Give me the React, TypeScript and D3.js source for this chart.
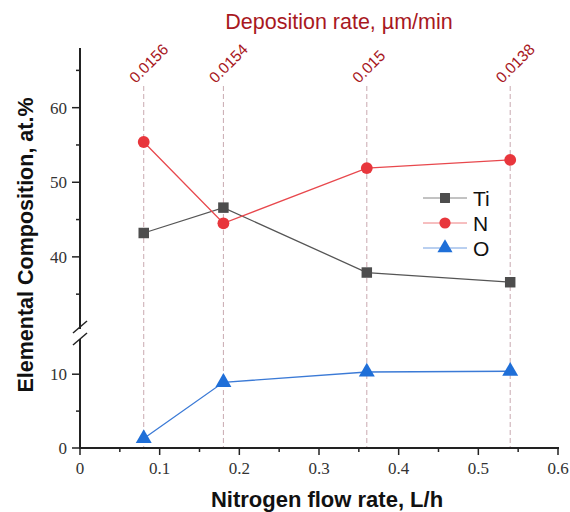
import React, { useEffect, useRef } from "react";
import * as d3 from "d3";

const flowRates = [0.08, 0.18, 0.36, 0.54];
const depositionRates = ["0.0156", "0.0154", "0.015", "0.0138"];
const tiValues = [43.2, 46.6, 37.9, 36.6];
const nValues = [55.4, 44.5, 51.9, 53.0];
const oValues = [1.3, 8.9, 10.3, 10.4];
const xTicks = [0, 0.1, 0.2, 0.3, 0.4, 0.5, 0.6];
const upperTicks = [40, 50, 60];
const upperMinor = [35, 45, 55, 65];
const lowerTicks = [0, 10];
const lowerMinor = [5];

const SANS = "'Liberation Sans', Arial, sans-serif";
const SERIF = "'Liberation Serif', 'Times New Roman', serif";

export default function App() {
  const svgRef = useRef<SVGSVGElement>(null);

  useEffect(() => {
    const svg = d3.select(svgRef.current);
    svg.selectAll("*").remove();

    const x = d3.scaleLinear().domain([0, 0.6]).range([80, 558]);
    const yLow = d3.scaleLinear().domain([0, 14.5]).range([448, 341]);
    const yHigh = d3.scaleLinear().domain([31, 68]).range([324, 48]);
    const y = (v: number) => (v > 20 ? yHigh(v) : yLow(v));

    svg.append("rect").attr("width", 570).attr("height", 512).attr("fill", "#fff");

    // vertical dashed guides
    svg.selectAll(".guide")
      .data(flowRates)
      .join("line")
      .attr("x1", (d) => x(d))
      .attr("x2", (d) => x(d))
      .attr("y1", 86)
      .attr("y2", 448)
      .attr("stroke", "#c9a9b0")
      .attr("stroke-width", 1)
      .attr("stroke-dasharray", "5,3");

    // deposition rate labels
    svg.selectAll(".dep")
      .data(flowRates)
      .join("text")
      .attr("transform", (d) => `translate(${x(d) - 8},84) rotate(-45)`)
      .attr("font-family", SANS)
      .attr("font-size", 15.5)
      .attr("fill", "#a8181e")
      .text((d, i) => depositionRates[i]);

    svg.append("text")
      .attr("x", 339)
      .attr("y", 29)
      .attr("text-anchor", "middle")
      .attr("font-family", SANS)
      .attr("font-size", 21.5)
      .attr("fill", "#a8181e")
      .text("Deposition rate, µm/min");

    // y axis spine (broken)
    const ax = svg.append("g").attr("stroke", "#222").attr("stroke-width", 2);
    ax.append("line").attr("x1", 80).attr("x2", 80).attr("y1", 48).attr("y2", 329);
    ax.append("line").attr("x1", 80).attr("x2", 80).attr("y1", 339).attr("y2", 449);
    ax.append("line").attr("x1", 73).attr("x2", 87).attr("y1", 333).attr("y2", 321).attr("stroke-width", 1.5);
    ax.append("line").attr("x1", 73).attr("x2", 87).attr("y1", 345).attr("y2", 333).attr("stroke-width", 1.5);

    const yTicksMajor = [...upperTicks, ...lowerTicks];
    const yTicksMinor = [...upperMinor, ...lowerMinor];
    svg.selectAll(".ytick")
      .data(yTicksMajor)
      .join("line")
      .attr("x1", 72).attr("x2", 80)
      .attr("y1", (d) => y(d)).attr("y2", (d) => y(d))
      .attr("stroke", "#222").attr("stroke-width", 1.5);
    svg.selectAll(".ytickm")
      .data(yTicksMinor)
      .join("line")
      .attr("x1", 76).attr("x2", 80)
      .attr("y1", (d) => y(d)).attr("y2", (d) => y(d))
      .attr("stroke", "#222").attr("stroke-width", 1.5);
    svg.selectAll(".ylab")
      .data(yTicksMajor)
      .join("text")
      .attr("x", 67)
      .attr("y", (d) => y(d))
      .attr("dy", "0.35em")
      .attr("text-anchor", "end")
      .attr("font-family", SERIF)
      .attr("font-size", 17)
      .attr("fill", "#333")
      .text((d) => d);

    // x axis
    svg.append("line").attr("x1", 79).attr("x2", 559).attr("y1", 448).attr("y2", 448)
      .attr("stroke", "#222").attr("stroke-width", 2);
    svg.selectAll(".xtick")
      .data(xTicks)
      .join("line")
      .attr("x1", (d) => x(d)).attr("x2", (d) => x(d))
      .attr("y1", 448).attr("y2", 455)
      .attr("stroke", "#222").attr("stroke-width", 1.5);
    svg.selectAll(".xtickm")
      .data(xTicks.slice(0, -1).map((d) => d + 0.05))
      .join("line")
      .attr("x1", (d) => x(d)).attr("x2", (d) => x(d))
      .attr("y1", 448).attr("y2", 452)
      .attr("stroke", "#222").attr("stroke-width", 1.5);
    svg.selectAll(".xlab")
      .data(xTicks)
      .join("text")
      .attr("x", (d) => x(d))
      .attr("y", 474)
      .attr("text-anchor", "middle")
      .attr("font-family", SERIF)
      .attr("font-size", 17)
      .attr("fill", "#333")
      .text((d) => (d === 0 ? "0" : d3.format(".1f")(d)));

    svg.append("text")
      .attr("x", 327)
      .attr("y", 507)
      .attr("text-anchor", "middle")
      .attr("font-family", SANS)
      .attr("font-size", 22)
      .attr("font-weight", "bold")
      .attr("fill", "#111")
      .text("Nitrogen flow rate, L/h");

    svg.append("text")
      .attr("transform", "translate(33,245) rotate(-90)")
      .attr("text-anchor", "middle")
      .attr("font-family", SANS)
      .attr("font-size", 21.5)
      .attr("font-weight", "bold")
      .attr("fill", "#111")
      .text("Elemental Composition, at.%");

    const series = [
      { name: "Ti", values: tiValues, color: "#4d4d4d", line: "#555", shape: d3.symbolSquare, size: 110 },
      { name: "N", values: nValues, color: "#e8363c", line: "#e8484d", shape: d3.symbolCircle, size: 110 },
      { name: "O", values: oValues, color: "#1f6fd8", line: "#3b7ad6", shape: d3.symbolTriangle, size: 110 },
    ];

    const line = d3.line<number>()
      .x((d, i) => x(flowRates[i]))
      .y((d) => y(d));

    series.forEach((s) => {
      svg.append("path")
        .attr("d", line(s.values))
        .attr("fill", "none")
        .attr("stroke", s.line)
        .attr("stroke-width", 1.3);
      svg.selectAll(`.m-${s.name}`)
        .data(s.values)
        .join("path")
        .attr("transform", (d, i) => `translate(${x(flowRates[i])},${y(d)})`)
        .attr("d", d3.symbol().type(s.shape).size(s.size)())
        .attr("fill", s.color);
    });

    // legend
    const lg = svg.append("g").attr("transform", "translate(423,198)");
    series.forEach((s, i) => {
      const g = lg.append("g").attr("transform", `translate(0,${i * 25})`);
      g.append("line").attr("x1", 0).attr("x2", 44).attr("y1", 0).attr("y2", 0)
        .attr("stroke", s.line).attr("stroke-width", 1).attr("opacity", 0.7);
      g.append("path")
        .attr("transform", "translate(22,0)")
        .attr("d", d3.symbol().type(s.shape).size(s.size * 0.9)())
        .attr("fill", s.color);
      g.append("text")
        .attr("x", 50)
        .attr("y", 0)
        .attr("dy", "0.36em")
        .attr("font-family", SANS)
        .attr("font-size", 21)
        .attr("fill", "#111")
        .text(s.name);
    });
  }, []);

  return (
    <svg ref={svgRef} width={570} height={512} style={{ position: "absolute", left: 0, top: 0 }} />
  );
}
